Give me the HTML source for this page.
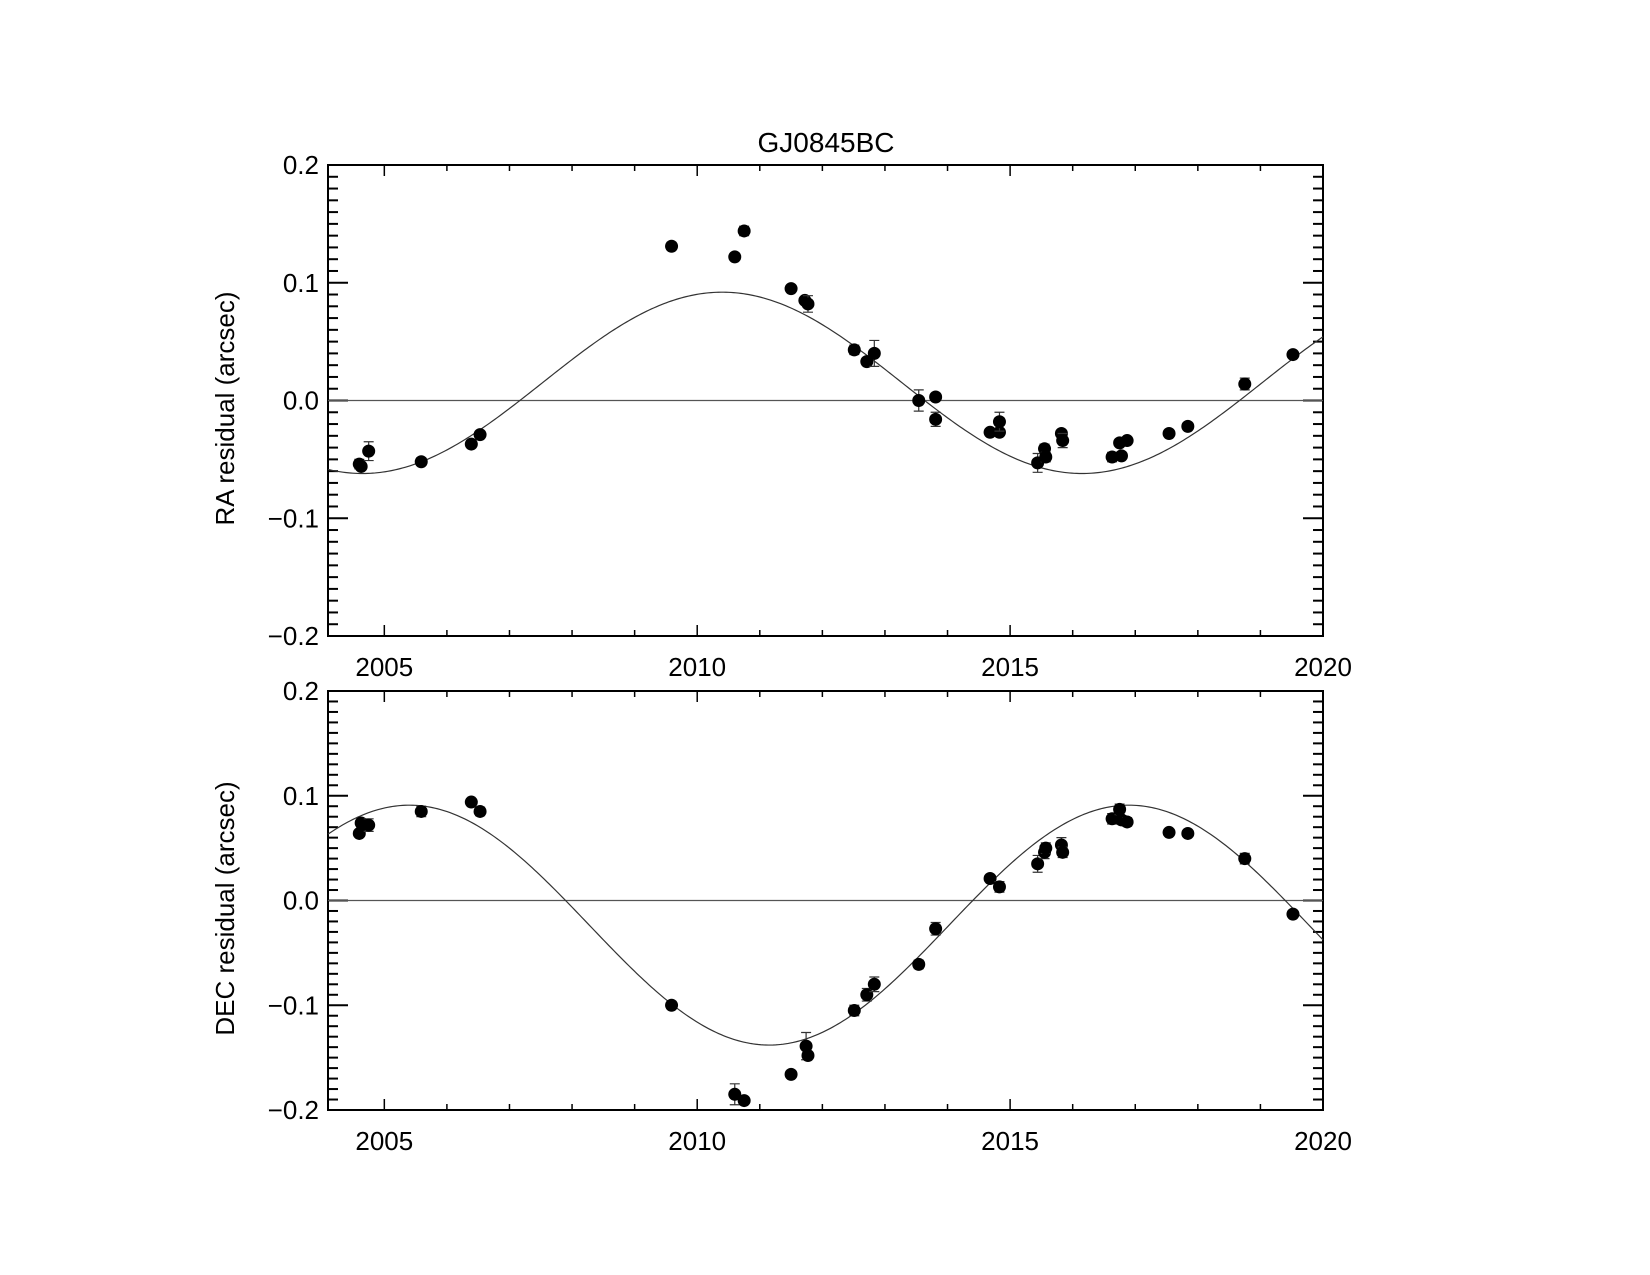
<!DOCTYPE html>
<html><head><meta charset="utf-8"><style>
html,body{margin:0;padding:0;background:#fff}
svg{display:block}
text{font-family:"Liberation Sans",sans-serif;fill:#000}
</style></head><body>
<svg id="chart" width="1650" height="1275" viewBox="0 0 1650 1275" xmlns="http://www.w3.org/2000/svg">
<rect width="1650" height="1275" fill="#fff"/>
<text x="826" y="152" font-size="28" text-anchor="middle">GJ0845BC</text>
<g id="ra"></g>
<g id="dec"></g>
</svg>
<script>
const raYears=[2004.60,2004.63,2004.75,2005.59,2006.39,2006.53,2009.59,2010.60,2010.75,2011.50,2011.72,2011.77,2012.51,2012.71,2012.83,2013.54,2013.81,2013.81,2014.68,2014.83,2014.83,2015.44,2015.55,2015.57,2015.82,2015.84,2016.63,2016.75,2016.78,2016.87,2017.54,2017.84,2018.75,2019.52];
const raValues=[-0.054,-0.056,-0.043,-0.052,-0.037,-0.029,0.131,0.122,0.144,0.095,0.085,0.082,0.043,0.033,0.040,0.000,0.003,-0.016,-0.027,-0.027,-0.018,-0.053,-0.041,-0.048,-0.028,-0.034,-0.048,-0.036,-0.047,-0.034,-0.028,-0.022,0.014,0.039];
const raErrors=[0.004,0.003,0.008,0.003,0.003,0.003,0.002,0.002,0.004,0.002,0.002,0.007,0.004,0.003,0.011,0.009,0.003,0.006,0.003,0.003,0.008,0.008,0.004,0.004,0.003,0.006,0.004,0.003,0.003,0.003,0.003,0.003,0.005,0.003];
const decYears=[2004.60,2004.63,2004.75,2005.59,2006.39,2006.53,2009.59,2010.60,2010.75,2011.50,2011.74,2011.77,2012.51,2012.71,2012.83,2013.54,2013.81,2014.68,2014.83,2015.44,2015.55,2015.57,2015.82,2015.84,2016.63,2016.75,2016.78,2016.87,2017.54,2017.84,2018.75,2019.52];
const decValues=[0.064,0.074,0.072,0.085,0.094,0.085,-0.100,-0.185,-0.191,-0.166,-0.139,-0.148,-0.105,-0.090,-0.080,-0.061,-0.027,0.021,0.013,0.035,0.046,0.050,0.053,0.046,0.078,0.087,0.077,0.075,0.065,0.064,0.040,-0.013];
const decErrors=[0.003,0.004,0.006,0.005,0.003,0.004,0.003,0.010,0.003,0.003,0.013,0.003,0.005,0.006,0.007,0.004,0.006,0.003,0.005,0.008,0.006,0.005,0.007,0.005,0.005,0.005,0.004,0.004,0.003,0.003,0.005,0.003];
const xTickLabels=[2005,2010,2015,2020];
const yTickLabels=["\u22120.2","\u22120.1","0.0","0.1","0.2"];
const yTickValues=[-0.2,-0.1,0,0.1,0.2];
// orbital model curves (fitted sinusoids)
function raModel(t){return 0.015+0.077*Math.cos(2*Math.PI*(t-2010.4)/11.5);}
function decModel(t){return -0.0235+0.1145*Math.cos(2*Math.PI*(t-2005.4)/11.5);}

const NS="http://www.w3.org/2000/svg";
function mk(tag,attrs,parent){const e=document.createElementNS(NS,tag);for(const k in attrs)e.setAttribute(k,attrs[k]);parent.appendChild(e);return e;}

function drawPanel(g,box,years,values,errors,model,ytitle,prefix){
  const x0=2004.1,x1=2020.0;
  const xs=t=>box.l+(t-x0)/(x1-x0)*(box.r-box.l);
  const ys=v=>box.b-(v+0.2)/0.4*(box.b-box.t);
  // frame
  const fr=mk('rect',{x:box.l,y:box.t,width:box.r-box.l,height:box.b-box.t,fill:'none',stroke:'#000','stroke-width':2},g);
  
  
  // y ticks
  for(let i=-20;i<=20;i++){
    const v=i/100,y=ys(v),len=(i%10===0)?20:10;
    const a=mk('line',{x1:box.l,y1:y,x2:box.l+len,y2:y,stroke:'#000','stroke-width':2},g);
    
    
    const b=mk('line',{x1:box.r,y1:y,x2:box.r-len,y2:y,stroke:'#000','stroke-width':2},g);
    
    
  }
  yTickValues.forEach((v,i)=>{
    const t=mk('text',{x:box.l-9,y:ys(v)+9,'font-size':26,'text-anchor':'end'},g);
    t.textContent=yTickLabels[i];
    
    
  });
  // x ticks
  for(let yr=2005;yr<=2020;yr++){
    const x=xs(yr),len=(yr%5===0)?11:6;
    const a=mk('line',{x1:x,y1:box.b,x2:x,y2:box.b-len,stroke:'#000','stroke-width':1.5},g);
    
    
    const b=mk('line',{x1:x,y1:box.t,x2:x,y2:box.t+len,stroke:'#000','stroke-width':1.5},g);
    
    
  }
  xTickLabels.forEach(yr=>{
    const t=mk('text',{x:xs(yr),y:box.b+40,'font-size':26,'text-anchor':'middle'},g);
    t.textContent=String(yr);
    
    
  });
  // y title
  const cy=(box.t+box.b)/2+8;
  const yt=mk('text',{x:0,y:0,'font-size':26,'text-anchor':'middle',transform:`translate(234,${cy}) rotate(-90)`},g);
  yt.textContent=ytitle;
  
  
  // zero line
  const z=mk('line',{x1:box.l,y1:ys(0),x2:box.r,y2:ys(0),stroke:'#555','stroke-width':1.3},g);
  
  
  // model curve
  let d='';
  for(let i=0;i<=400;i++){const t=x0+(x1-x0)*i/400;d+=(i?'L':'M')+xs(t).toFixed(2)+','+ys(model(t)).toFixed(2);}
  const c=mk('path',{d:d,fill:'none',stroke:'#333','stroke-width':1.2},g);
  
  
  // points
  years.forEach((t,i)=>{
    const x=xs(t),y=ys(values[i]),e=errors[i];
    const y1=ys(values[i]+e),y2=ys(values[i]-e);
    const eb=mk('path',{d:`M${x},${y1}L${x},${y2}M${x-5},${y1}L${x+5},${y1}M${x-5},${y2}L${x+5},${y2}`,stroke:'#333','stroke-width':1.2,fill:'none'},g);
    
    
    const p=mk('ellipse',{cx:x,cy:y,rx:6.5,ry:6.5,fill:'#000'},g);
    
    
  });
}
drawPanel(document.getElementById('ra'),{l:328,r:1323,t:165,b:636},raYears,raValues,raErrors,raModel,'RA residual (arcsec)','ra');
drawPanel(document.getElementById('dec'),{l:328,r:1323,t:691,b:1110},decYears,decValues,decErrors,decModel,'DEC residual (arcsec)','dec');
</script>
</body></html>
